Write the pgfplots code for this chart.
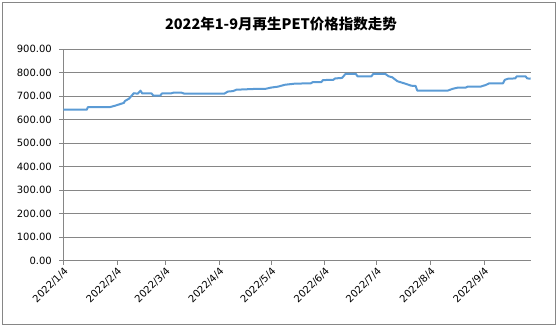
\documentclass[border=0pt]{standalone}
\usepackage{fontspec}
\setmainfont{DejaVu Sans}
\newfontfamily\cjk{Noto Sans CJK SC}
\usepackage{pgfplots}
\pgfplotsset{compat=1.18}
\definecolor{linecol}{HTML}{5B9BD5}
\definecolor{gridcol}{HTML}{868686}
\begin{document}
\begin{tikzpicture}
\useasboundingbox (0,0) rectangle (559bp,328bp);
\draw[gridcol, line width=0.75bp] (2.7bp,3.7bp) rectangle (555.8bp,325.3bp);
\node[font=\cjk\bfseries\fontsize{14.5bp}{16bp}\selectfont] at (281bp,304bp) {2022年1-9月再生PET价格指数走势};
\begin{axis}[
  at={(63.3bp,67.3bp)}, anchor=south west,
  scale only axis, width=467.4bp, height=211.4bp,
  xmin=0, xmax=270, ymin=0, ymax=900,
  xtick={0,31,59,90,120,151,181,212,243},
  xticklabels={2022/1/4,2022/2/4,2022/3/4,2022/4/4,2022/5/4,2022/6/4,2022/7/4,2022/8/4,2022/9/4},
  ytick={0,100,...,900},
  ymajorgrids, grid style={gridcol, line width=0.75bp},
  axis x line*=bottom, axis y line*=left,
  axis line style={gridcol, line width=0.75bp, -},
  tick align=outside, major tick length=4bp,
  tick style={gridcol, line width=0.75bp},
  tick label style={font=\fontsize{10bp}{12bp}\selectfont, text=black},
  xticklabel style={rotate=45, anchor=north east, inner sep=1bp, /pgf/number format/assume math mode=true},
  yticklabel style={xshift=-4bp, /pgf/number format/.cd, fixed, fixed zerofill, precision=2, 1000 sep={}, assume math mode=true},
  clip=false,
]
\addplot[linecol, line width=2bp, line join=round] coordinates {
(0,643) (13.6,643) (14.2,654) (27,654) (30,660) (35,672) (35.6,680) (38,690) (40.7,713) (43,711)
(44.6,724) (45.6,712) (51,712) (52,703) (56,703) (57,712) (62,712) (64,716) (68,716) (70,711)
(93,711) (95,720) (98,722) (100,728) (113,732) (117,732) (120,737) (124,741) (128,749) (134,754)
(143,755) (144,760) (149,760) (150,769) (156,770) (157,776) (161,778) (163,795) (169,795) (170,785)
(178,785) (179,795) (186,795) (188,785) (190,781) (193,764) (197,755) (201,745) (203.5,744) (204.5,724)
(222,724) (225,732) (228,737) (232.5,737) (233.5,741) (241,741) (244,748) (246,755) (254,755) (255,770)
(257,775) (261,776) (262,785) (267,785) (268,776) (270,775)
};
\end{axis}
\end{tikzpicture}
\end{document}
